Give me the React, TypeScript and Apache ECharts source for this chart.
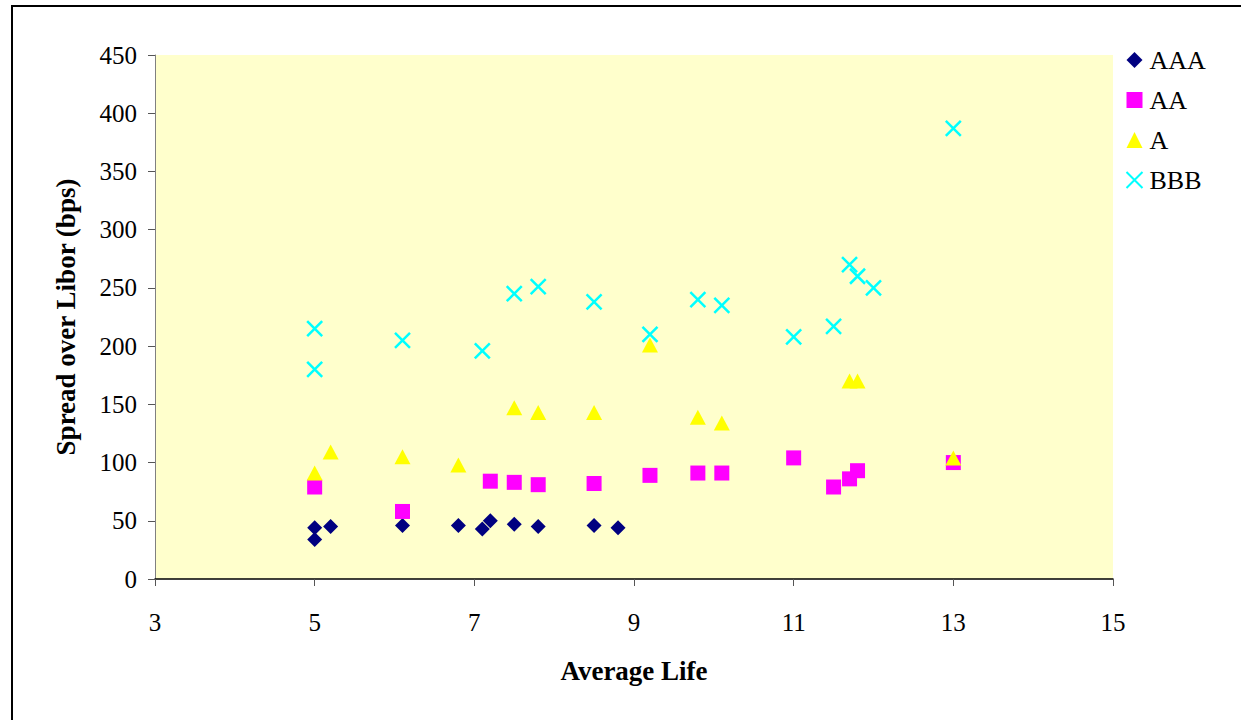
import React, { useEffect, useRef } from "react";
import * as echarts from "echarts";

const seriesNames = ["AAA", "AA", "A", "BBB"];

const aaaData: [number, number][] = [
  [5.0, 44], [5.0, 34], [5.2, 45], [6.1, 46], [6.8, 46], [7.1, 43],
  [7.2, 50], [7.5, 47], [7.8, 45], [8.5, 46], [8.8, 44],
];
const aaData: [number, number][] = [
  [5.0, 79], [6.1, 58], [7.2, 84], [7.5, 83], [7.8, 81], [8.5, 82],
  [9.2, 89], [9.8, 91], [10.1, 91], [11.0, 104], [11.5, 79], [11.7, 86],
  [11.8, 93], [13.0, 100],
];
const aData: [number, number][] = [
  [5.0, 91], [5.2, 109], [6.1, 105], [6.8, 98], [7.5, 147], [7.8, 143],
  [8.5, 143], [9.2, 201], [9.8, 139], [10.1, 134], [11.7, 170], [11.8, 170],
  [13.0, 104],
];
const bbbData: [number, number][] = [
  [5.0, 215], [5.0, 180], [6.1, 205], [7.1, 196], [7.5, 245], [7.8, 251],
  [8.5, 238], [9.2, 210], [9.8, 240], [10.1, 235], [11.0, 208], [11.5, 217],
  [11.7, 270], [11.8, 260], [12.0, 250], [13.0, 387],
];

const xTitle = "Average Life";
const yTitle = "Spread over Libor (bps)";

const SERIF = "Liberation Serif";

export default function App() {
  const ref = useRef<HTMLDivElement>(null);
  useEffect(() => {
    if (!ref.current) return;
    const chart = echarts.init(ref.current, undefined, { renderer: "svg" });
    chart.setOption({
      animation: false,
      backgroundColor: "#ffffff",
      textStyle: { fontFamily: SERIF },
      graphic: [
        {
          type: "rect",
          shape: { x: 12, y: 6, width: 1300, height: 800 },
          style: { fill: "none", stroke: "#000000", lineWidth: 2 },
          z: 100,
        },
      ],
      grid: {
        left: 155,
        right: 128,
        top: 55,
        bottom: 141,
        show: true,
        backgroundColor: "#FFFFCC",
        borderWidth: 0,
      },
      legend: {
        orient: "vertical",
        left: 1119,
        top: 42,
        itemGap: 14,
        itemWidth: 16,
        itemHeight: 16,
        textStyle: { fontFamily: SERIF, fontSize: 26, color: "#000", padding: [0, 0, 0, 2] },
        data: seriesNames,
      },
      xAxis: {
        type: "value",
        min: 3,
        max: 15,
        interval: 2,
        name: xTitle,
        nameLocation: "middle",
        nameGap: 78,
        nameTextStyle: { fontFamily: SERIF, fontSize: 27, fontWeight: "bold", color: "#000" },
        splitLine: { show: false },
        axisLine: { onZero: false, lineStyle: { color: "#000", width: 1.5 } },
        axisTick: { show: true, inside: false, length: 7, lineStyle: { color: "#555" } },
        axisLabel: { margin: 31, fontFamily: SERIF, fontSize: 25, color: "#000" },
      },
      yAxis: {
        type: "value",
        min: 0,
        max: 450,
        interval: 50,
        name: yTitle,
        nameLocation: "middle",
        nameGap: 76,
        nameTextStyle: { fontFamily: SERIF, fontSize: 27, fontWeight: "bold", color: "#000" },
        splitLine: { show: false },
        axisLine: { show: true, lineStyle: { color: "#808080", width: 1 } },
        axisTick: { show: true, inside: false, length: 7, lineStyle: { color: "#555" } },
        axisLabel: { margin: 18, fontFamily: SERIF, fontSize: 25, color: "#000" },
      },
      series: [
        {
          name: "AAA",
          type: "scatter",
          symbol: "diamond",
          symbolSize: 15,
          itemStyle: { color: "#000080", opacity: 1 },
          data: aaaData,
        },
        {
          name: "AA",
          type: "scatter",
          symbol: "rect",
          symbolSize: 15,
          itemStyle: { color: "#FF00FF", opacity: 1 },
          data: aaData,
        },
        {
          name: "A",
          type: "scatter",
          symbol: "triangle",
          symbolSize: [16, 15],
          itemStyle: { color: "#FFFF00", opacity: 1 },
          data: aData,
        },
        {
          name: "BBB",
          type: "scatter",
          symbol: "path://M0,0L10,10M10,0L0,10",
          symbolSize: 15,
          itemStyle: { color: "none", borderColor: "#00FFFF", borderWidth: 2.5, opacity: 1 },
          data: bbbData,
        },
      ],
    });
    return () => chart.dispose();
  }, []);
  return (
    <div
      ref={ref}
      style={{ position: "absolute", left: 0, top: 0, width: 1241, height: 720 }}
    />
  );
}
